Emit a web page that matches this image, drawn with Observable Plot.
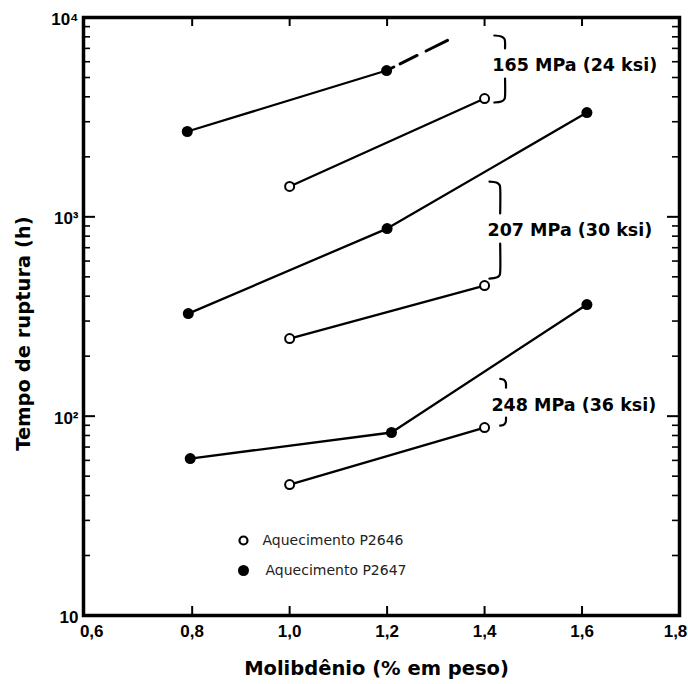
<!DOCTYPE html>
<html><head><meta charset="utf-8">
<script src="https://cdn.jsdelivr.net/npm/d3@7"></script>
<script src="https://cdn.jsdelivr.net/npm/@observablehq/plot@0.6"></script>
<style>body{margin:0;background:#fff} svg{display:block}</style>
</head><body><div id="chart"></div>
<script>
// ---- data ----
const heats = ["Aquecimento P2646", "Aquecimento P2647"];
const stressLabels = ["165 MPa (24 ksi)", "207 MPa (30 ksi)", "248 MPa (36 ksi)"];
// heat P2646 (open circles), one list per stress
const mo2646 = [[1.00, 1.40], [1.00, 1.40], [1.00, 1.40]];
const hours2646 = [[1420, 3920], [245, 452], [45.4, 87.7]];
// heat P2647 (filled circles)
const mo2647 = [[0.790, 1.199], [0.792, 1.200, 1.610], [0.796, 1.209, 1.610]];
const hours2647 = [[2680, 5420], [327, 873, 3333], [61.3, 82.8, 363]];
// dashed extrapolation at 165 MPa
const extrapMo = [1.199, 1.324];
const extrapHours = [5420, 7675];
// stress annotation positions (data units)
const labelMo = [1.416, 1.406, 1.414];
const labelHours = [5740, 853, 113];
const braceMo = [1.442, 1.432, 1.444];
const braceTop = [8124, 1503, 154];
const braceTopEnd = [6990, 1039, 139];
const braceBotStart = [4943, 734, 98.4];
const braceBot = [3745, 490, 89.7];
// axes
const xTicks = [0.6, 0.8, 1.0, 1.2, 1.4, 1.6, 1.8];
const xTickLabels = ["0,6", "0,8", "1,0", "1,2", "1,4", "1,6", "1,8"];
const yTicks = [10, 100, 1000, 10000];
const yTickLabels = ["10", "10²", "10³", "10⁴"];
const xLabel = "Molibdênio (% em peso)";
const yLabel = "Tempo de ruptura (h)";

// ---- build tables ----
const xDomain = [0.577, 1.8];
const yDomain = [10, 10000];
const W = 688, H = 684, mL = 83, mR = 9, mT = 17, mB = 69;
const pxPerX = (W - mL - mR) / (xDomain[1] - xDomain[0]);
const f = Math.pow(10, 3 / (H - mT - mB)); // one pixel in log space

const rows = [];
mo2646.forEach((xs, s) => xs.forEach((x, i) => rows.push({heat: heats[0], stress: stressLabels[s], mo: x, h: hours2646[s][i]})));
mo2647.forEach((xs, s) => xs.forEach((x, i) => rows.push({heat: heats[1], stress: stressLabels[s], mo: x, h: hours2647[s][i]})));
const extrap = extrapMo.map((x, i) => ({mo: x, h: extrapHours[i]}));
const labels = stressLabels.map((t, i) => ({text: t, mo: labelMo[i], h: labelHours[i]}));

const hookW = [0.022, 0.022, 0.012];
const braces = [];
stressLabels.forEach((t, i) => {
  const x = braceMo[i], w = hookW[i], top = braceTop[i], bot = braceBot[i];
  [[x - w, top], [x - w * 0.35, top / f], [x - w * 0.05, top / Math.pow(f, 3.5)], [x, top / Math.pow(f, 6.5)], [x, braceTopEnd[i]]]
    .forEach(([mo, h]) => braces.push({part: i + "t", mo, h}));
  [[x, braceBotStart[i]], [x, bot * Math.pow(f, 6.5)], [x - w * 0.05, bot * Math.pow(f, 3.5)], [x - w * 0.35, bot * f], [x - w, bot]]
    .forEach(([mo, h]) => braces.push({part: i + "b", mo, h}));
});

const yMinor = [];
for (let d = 10; d < 10000; d *= 10) for (let k = 2; k <= 9; k++) yMinor.push(d * k);
const xInner = xTicks.slice(1, -1);
const majLen = 12 / pxPerX, minLen = 7 / pxPerX;

const tickFont = {fontFamily: "Liberation Sans", fontWeight: "bold", fontSize: 17, tickSize: 0, label: null};
const xFmt = d => xTickLabels[xTicks.indexOf(d)];

const chart = Plot.plot({
  width: W, height: H,
  marginLeft: mL, marginRight: mR, marginTop: mT, marginBottom: mB,
  style: {background: "#fff", color: "#000", fontFamily: "Liberation Sans"},
  x: {domain: xDomain},
  y: {type: "log", domain: yDomain},
  marks: [
    // inward ticks
    Plot.ruleY(yTicks, {y: d => d, x1: xDomain[0], x2: xDomain[0] + majLen, strokeWidth: 2}),
    Plot.ruleY(yMinor, {y: d => d, x1: xDomain[0], x2: xDomain[0] + minLen, strokeWidth: 1.6}),
    Plot.ruleY(yTicks, {y: d => d, x1: xDomain[1] - majLen, x2: xDomain[1], strokeWidth: 2}),
    Plot.ruleY(yMinor, {y: d => d, x1: xDomain[1] - minLen, x2: xDomain[1], strokeWidth: 1.6}),
    Plot.ruleX(xInner, {x: d => d, y1: yDomain[0], y2: yDomain[0] * Math.pow(f, 9), strokeWidth: 2}),
    Plot.ruleX(xInner, {x: d => d, y1: yDomain[1] / Math.pow(f, 9), y2: yDomain[1], strokeWidth: 2}),
    Plot.frame({stroke: "#000", strokeWidth: 3.5}),
    // tick labels
    Plot.axisX({ticks: xInner, tickFormat: xFmt, tickPadding: 9, ...tickFont}),
    Plot.axisX({ticks: [xTicks[0]], tickFormat: xFmt, tickPadding: 9, dx: -3, ...tickFont}),
    Plot.axisX({ticks: [xTicks[xTicks.length - 1]], tickFormat: xFmt, tickPadding: 9, dx: -4, ...tickFont}),
    Plot.axisY({ticks: yTicks, tickFormat: d => yTickLabels[yTicks.indexOf(d)], tickPadding: 5, dy: 2, ...tickFont}),
    // data
    Plot.line(rows, {x: "mo", y: "h", z: d => d.heat + d.stress, stroke: "#000", strokeWidth: 2.3}),
    Plot.line(extrap, {x: "mo", y: "h", stroke: "#000", strokeWidth: 3, strokeDasharray: "8 7 19 10 24 100"}),
    Plot.dot(rows.filter(d => d.heat === heats[1]), {x: "mo", y: "h", r: 5.5, fill: "#000", stroke: "none"}),
    Plot.dot(rows.filter(d => d.heat === heats[0]), {x: "mo", y: "h", r: 4.5, fill: "#fff", stroke: "#000", strokeWidth: 2}),
    // stress annotations
    Plot.line(braces, {x: "mo", y: "h", z: "part", curve: "catmull-rom", stroke: "#000", strokeWidth: 2.2}),
    Plot.text(labels, {x: "mo", y: "h", text: "text", textAnchor: "start", lineAnchor: "middle", fontFamily: "DejaVu Sans", fontWeight: "bold", fontSize: 17.5, fill: "#000"}),
    // legend
    Plot.dot([0], {frameAnchor: "bottom-left", dx: 160, dy: -75, r: 4, fill: "#fff", stroke: "#000", strokeWidth: 2.2}),
    Plot.dot([0], {frameAnchor: "bottom-left", dx: 160, dy: -45, r: 5.5, fill: "#000"}),
    Plot.text([heats[0]], {frameAnchor: "bottom-left", dx: 179, dy: -75, text: d => d, textAnchor: "start", lineAnchor: "middle", fontFamily: "DejaVu Sans", fontSize: 14, fill: "#222"}),
    Plot.text([heats[1]], {frameAnchor: "bottom-left", dx: 182, dy: -45, text: d => d, textAnchor: "start", lineAnchor: "middle", fontFamily: "DejaVu Sans", fontSize: 14, fill: "#222"}),
    // axis titles
    Plot.text([xLabel], {frameAnchor: "bottom", dx: -5, dy: 53, text: d => d, textAnchor: "middle", lineAnchor: "middle", fontFamily: "DejaVu Sans", fontWeight: "bold", fontSize: 19.5, fill: "#000"}),
    Plot.text([yLabel], {frameAnchor: "left", dx: -60, dy: 17, rotate: -90, text: d => d, textAnchor: "middle", lineAnchor: "middle", fontFamily: "DejaVu Sans", fontWeight: "bold", fontSize: 19.5, fill: "#000"})
  ]
});
document.getElementById("chart").appendChild(chart);
</script>
</body></html>
